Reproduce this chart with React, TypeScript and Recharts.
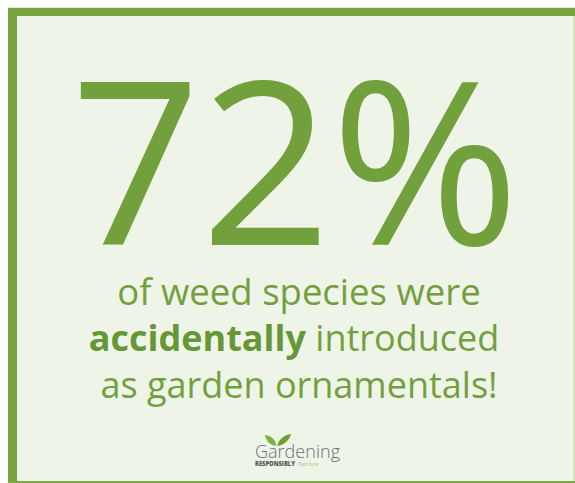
import React from 'react';
import { PieChart, Customized } from 'recharts';

// ---- data ----
const HEADLINE_VALUES = [72];
const HEADLINE_UNITS = ['%'];
const CAPTION_LINE_1 = ['of weed species were'];
const CAPTION_LINE_2_BOLD = ['accidentally'];
const CAPTION_LINE_2_REST = [' introduced'];
const CAPTION_LINE_3 = ['as garden ornamentals!'];
const LOGO_TEXTS = ['Gardening', 'RESPONSIBLY', 'Plant Sure'];

const W = 575;
const H = 483;
const GREEN = '#76A23F';
const TEXT_GREEN = '#72A03D';
const BOLD_GREEN = '#669737';
const BG = '#EFF4E9';
const FONT = "'Open Sans', 'Noto Sans', sans-serif";

function Infographic() {
  return (
    <g>
      <rect x={0} y={0} width={W} height={H} fill="#ffffff" />
      <rect x={8} y={7} width={W - 8} height={1} fill="#E0E8D6" />
      <rect x={8} y={8} width={W - 8} height={H - 8} fill={BG} />
      {/* frame */}
      <rect x={8} y={8} width={W - 8} height={8} fill={GREEN} />
      <rect x={8} y={8} width={9} height={H - 8} fill={GREEN} />
      <rect x={573.5} y={16} width={1.5} height={H - 16} fill="#C8DCAE" />
      <rect x={8} y={481} width={W - 8} height={2} fill="#7DAA45" />

      {/* headline */}
      <text x={295} y={245} textAnchor="middle" fontFamily={FONT} fontSize={228} fontWeight={400} fill={TEXT_GREEN}>
        {`${HEADLINE_VALUES[0]}${HEADLINE_UNITS[0]}`}
      </text>

      {/* caption */}
      <text x={299} y={305} textAnchor="middle" fontFamily={FONT} fontSize={36.5} fill={TEXT_GREEN}>
        {CAPTION_LINE_1[0]}
      </text>
      <text x={294} y={351} textAnchor="middle" fontFamily={FONT} fontSize={36} fill={TEXT_GREEN}>
        <tspan fontWeight={700} fill={BOLD_GREEN}>{CAPTION_LINE_2_BOLD[0]}</tspan>
        <tspan>{CAPTION_LINE_2_REST[0]}</tspan>
      </text>
      <text x={299} y={398} textAnchor="middle" fontFamily={FONT} fontSize={36} fill={TEXT_GREEN}>
        {CAPTION_LINE_3[0]}
      </text>

      {/* logo */}
      <g>
        <path d="M276 446 C276 440 272 436 265 435 C266 441 270 445 276 446 Z" fill="#7FB044" />
        <path d="M277 446 C279 439 284 435 291 434 C289 441 284 445 277 446 Z" fill="#6C9E36" />
        <text x={255} y={457.5} fontFamily={FONT} fontWeight={300} fontSize={19} fill="#707070" textLength={85} lengthAdjust="spacingAndGlyphs">
          {LOGO_TEXTS[0]}
        </text>
        <text x={255} y={466} fontFamily={FONT} fontWeight={800} fontSize={6} fill="#555555" textLength={40} lengthAdjust="spacingAndGlyphs">
          {LOGO_TEXTS[1]}
        </text>
        <text x={298} y={466} fontFamily={FONT} fontSize={5} fill="#9CC06E" textLength={20} lengthAdjust="spacingAndGlyphs">
          {LOGO_TEXTS[2]}
        </text>
      </g>
    </g>
  );
}

export default function App() {
  return (
    <div style={{ position: 'fixed', left: 0, top: 0, width: W, height: H }}>
      <PieChart width={W} height={H} margin={{ top: 0, right: 0, bottom: 0, left: 0 }}>
        <Customized component={<Infographic />} />
      </PieChart>
    </div>
  );
}
